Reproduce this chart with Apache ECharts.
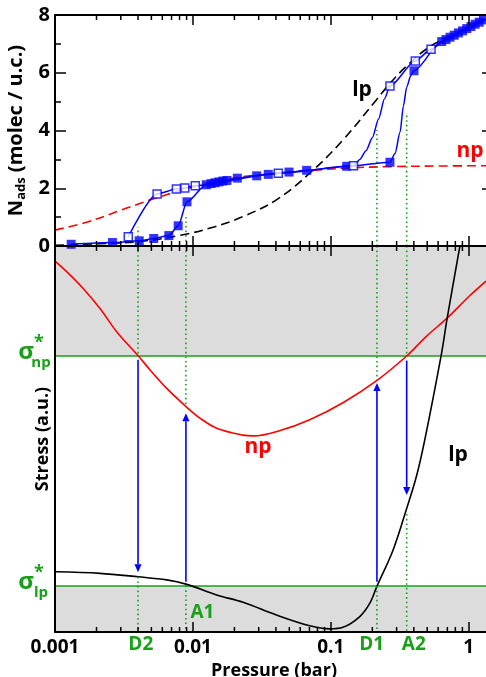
<!DOCTYPE html>
<html>
<head>
<meta charset="utf-8">
<script src="https://cdn.jsdelivr.net/npm/echarts@6/dist/echarts.min.js"></script>
<style>
  html, body { margin: 0; padding: 0; background: #fff; }
  #chart { width: 486px; height: 677px; }
</style>
</head>
<body>
<div id="chart"></div>
<script>
// ---- axis ticks ----
const pressureTicks = [0.001, 0.01, 0.1, 1];
const pressureTickLabels = ['0.001', '0.01', '0.1', '1'];
const pressureMin = 0.001;
const pressureMax = 1.5;
const nadsMax = 8;
const nadsStep = 2;

// ---- top panel: adsorption isotherms, [pressure (bar), N_ads (molec / u.c.)] ----
const npIsotherm = [
  [0.001, 0.55], [0.00174, 0.84], [0.00305, 1.25], [0.00531, 1.65], [0.00927, 2.0],
  [0.0129, 2.17], [0.0209, 2.37], [0.0356, 2.49], [0.0671, 2.6], [0.131, 2.7],
  [0.282, 2.75], [0.619, 2.77], [1.334, 2.78]
];
const lpIsotherm = [
  [0.001, 0.02], [0.00212, 0.08], [0.00402, 0.15], [0.0083, 0.38], [0.01445, 0.67],
  [0.0231, 1.02], [0.0403, 1.6], [0.0703, 2.52], [0.1225, 3.67], [0.2138, 5.06],
  [0.2825, 5.75], [0.373, 6.33], [0.521, 6.9], [0.731, 7.25], [1.0, 7.55], [1.334, 7.85]
];
// simulated adsorption (filled squares)
const adsorptionPts = [
  [0.00131, 0.06], [0.00261, 0.12], [0.00408, 0.18], [0.0052, 0.26], [0.00669, 0.36],
  [0.00782, 0.70], [0.00906, 1.53], [0.0125, 2.12], [0.01353, 2.16], [0.01445, 2.19],
  [0.01545, 2.22], [0.01652, 2.25], [0.01766, 2.27], [0.021, 2.35], [0.029, 2.43],
  [0.0352, 2.48], [0.0498, 2.56], [0.0668, 2.62], [0.1303, 2.76], [0.2685, 2.90],
  [0.4009, 6.07], [0.637, 7.08], [0.684, 7.15], [0.732, 7.23], [0.785, 7.30],
  [0.842, 7.38], [0.903, 7.45], [0.968, 7.53], [1.038, 7.60], [1.113, 7.68],
  [1.191, 7.75], [1.278, 7.83]
];
// simulated desorption (open squares)
const desorptionPts = [
  [0.533, 6.81], [0.410, 6.41], [0.2685, 5.54], [0.146, 2.78], [0.0416, 2.52],
  [0.0104, 2.09], [0.00873, 2.01], [0.00759, 1.97], [0.0055, 1.80], [0.0034, 0.32]
];
// guide lines through the simulated points, including the traced steps
const adsorptionStep = [[0.292, 3.2], [0.318, 3.95], [0.336, 4.85], [0.355, 5.5], [0.38, 5.9]];
const desorptionStep = [[0.245, 5.1], [0.222, 4.4], [0.2, 3.75], [0.18, 3.3], [0.162, 3.0], [0.15, 2.84]];

// ---- bottom panel: stress curves, [pressure (bar), stress (a.u.)] ----
const npStress = [
  [0.001, 96.1], [0.00122, 93.3], [0.0016, 89.0], [0.00212, 83.8], [0.0028, 77.8],
  [0.00402, 71.5], [0.00489, 67.9], [0.00646, 63.1], [0.00891, 58.4], [0.01125, 55.4],
  [0.01486, 52.8], [0.0231, 51.0], [0.0274, 50.8], [0.0429, 52.2], [0.0703, 55.0],
  [0.1225, 59.4], [0.2163, 65.2], [0.3548, 71.5], [0.4932, 76.6], [0.6966, 81.3],
  [1.016, 87.1], [1.334, 90.9]
];
const lpStress = [
  [0.001, 15.6], [0.00212, 15.2], [0.00402, 14.3], [0.00646, 13.5], [0.00891, 12.4],
  [0.01486, 9.6], [0.0231, 7.7], [0.0403, 4.4], [0.0703, 1.6], [0.0982, 0.8],
  [0.1225, 1.2], [0.1622, 4.0], [0.1914, 7.4], [0.2163, 11.9], [0.2825, 21.2],
  [0.3548, 32.0], [0.4169, 40.2], [0.4797, 49.7], [0.6324, 71.8], [0.6966, 81.1],
  [0.861, 99.8]
];
const stressMax = 100;
const sigmaNp = 71.5;
const sigmaLp = 11.9;

// ---- structural transitions ----
const transitions = ['D2', 'A1', 'D1', 'A2'];
const transitionP = [0.0040, 0.0089, 0.216, 0.355];
const transitionNads = [0.66, 1.0, 4.02, 4.6];       // dotted guide height, top panel
const guideUpperEnd = [71.5, 58.4, 65.2, 71.5];      // dotted guide from top of stress panel down to here
const guideLowerStart = [14.3, 12.0, 11.9, 30.5];    // dotted guide from here down to the axis
const arrowFrom = [70.5, 13.0, 13.0, 70.3];
const arrowTo = [15.5, 56.7, 64.5, 35.5];

// ---- styling ----
const FONT = '"Open Sans", "Liberation Sans", sans-serif';
const GREEN = '#19a019';
const BLUE = '#0000ff';
const RED = '#ff0000';
const GRAY = '#dcdcdc';
const GRID_LEFT = 55, GRID_W = 438;

const lg = Math.log10;
const toXY = arr => arr.map(([p, v]) => [lg(p), v]);
const xMin = lg(pressureMin);
const xMax = lg(pressureMax);

const adsorptionPath = adsorptionPts.concat(adsorptionStep).sort((a, b) => a[0] - b[0]);
const desorptionPath = [adsorptionPts[21]].concat(desorptionPts, desorptionStep).sort((a, b) => b[0] - a[0]);

// minor decade ticks (2..9 x 10^n) drawn on the log-pressure axes
const minorTicks = [];
for (let d = -3; d <= 0; d++) {
  for (let k = 2; k <= 9; k++) {
    const v = lg(k * Math.pow(10, d));
    if (v < xMax) minorTicks.push([v, 0]);
  }
}

const chart = echarts.init(document.getElementById('chart'), null, { renderer: 'canvas' });

function pressureLabel(v) {
  const i = pressureTicks.findIndex(p => Math.abs(lg(p) - v) < 1e-6);
  return i >= 0 ? pressureTickLabels[i] : '';
}

const tickStyle = { color: '#000', width: 1.5 };
const lineAxis = { onZero: false, lineStyle: { color: '#000', width: 2 } };

function xAxisDef(gridIndex, position, labelled) {
  return {
    gridIndex, position, type: 'value', min: xMin, max: xMax, interval: 1, z: 5,
    axisLine: lineAxis,
    axisTick: { show: true, inside: true, length: 10, lineStyle: tickStyle },
    splitLine: { show: false },
    axisLabel: labelled ? {
      show: true, formatter: pressureLabel, margin: 6, color: '#000',
      fontSize: 19, fontWeight: 'bold', fontFamily: FONT
    } : { show: false }
  };
}

function minorTickItem(params, api) {
  const cs = params.coordSys;
  const x = api.coord([api.value(0), 0])[0];
  const b = cs.y + cs.height, t = cs.y;
  return {
    type: 'group',
    children: [
      { type: 'line', shape: { x1: x, y1: b, x2: x, y2: b - 5 }, style: { stroke: '#000', lineWidth: 1.5 } },
      { type: 'line', shape: { x1: x, y1: t, x2: x, y2: t + 5 }, style: { stroke: '#000', lineWidth: 1.5 } }
    ]
  };
}

function dottedItem(params, api) {
  const p0 = api.coord([api.value(0), api.value(1)]);
  const p1 = api.coord([api.value(0), api.value(2)]);
  return {
    type: 'line',
    shape: { x1: p0[0], y1: p0[1], x2: p1[0], y2: p1[1] },
    style: { stroke: GREEN, lineWidth: 1.6, lineDash: [1.6, 3] }
  };
}

function arrowItem(params, api) {
  const p0 = api.coord([api.value(0), api.value(1)]);
  const p1 = api.coord([api.value(0), api.value(2)]);
  const dir = p1[1] > p0[1] ? 1 : -1;
  const head = 8, half = 3.6;
  const x = p0[0];
  return {
    type: 'group',
    children: [
      { type: 'line', shape: { x1: x, y1: p0[1], x2: x, y2: p1[1] - dir * head }, style: { stroke: BLUE, lineWidth: 1.6 } },
      { type: 'polygon', shape: { points: [[x - half, p1[1] - dir * head], [x + half, p1[1] - dir * head], [x, p1[1]]] }, style: { fill: BLUE } }
    ]
  };
}

function bandItem(params, api) {
  const cs = params.coordSys;
  const y0 = api.coord([xMin, api.value(1)])[1];
  const y1 = api.coord([xMin, api.value(2)])[1];
  return {
    type: 'rect',
    shape: { x: cs.x, y: Math.min(y0, y1), width: cs.width, height: Math.abs(y1 - y0) },
    style: { fill: GRAY }
  };
}

function levelItem(params, api) {
  const cs = params.coordSys;
  const y = api.coord([xMin, api.value(1)])[1];
  return {
    type: 'line',
    shape: { x1: cs.x, y1: y, x2: cs.x + cs.width, y2: y },
    style: { stroke: GREEN, lineWidth: 1.6 }
  };
}

const option = {
  animation: false,
  backgroundColor: '#fff',
  textStyle: { fontFamily: FONT },
  grid: [
    { left: GRID_LEFT, top: 15, width: GRID_W, height: 231, outerBoundsMode: 'none', containLabel: false },
    { left: GRID_LEFT, top: 246, width: GRID_W, height: 386, outerBoundsMode: 'none', containLabel: false }
  ],
  xAxis: [
    xAxisDef(0, 'bottom', false),
    xAxisDef(0, 'top', false),
    Object.assign(xAxisDef(1, 'bottom', true), {
      name: 'Pressure (bar)', nameLocation: 'middle', nameGap: 24,
      nameTextStyle: { fontSize: 18, fontWeight: 'bold', color: '#000', fontFamily: FONT }
    }),
    xAxisDef(1, 'top', false)
  ],
  yAxis: [
    {
      gridIndex: 0, position: 'left', type: 'value', min: 0, max: nadsMax, interval: nadsStep, z: 5,
      axisLine: lineAxis,
      axisTick: { show: true, inside: true, length: 11, lineStyle: tickStyle },
      minorTick: { show: true, splitNumber: 2, length: 6, lineStyle: tickStyle },
      splitLine: { show: false },
      axisLabel: { show: true, margin: 5, color: '#000', fontSize: 20, fontWeight: 'bold', fontFamily: FONT },
      name: '{a|N}{b|ads}{a| (molec / u.c.)}',
      nameLocation: 'middle', nameRotate: 90, nameGap: 23,
      nameTextStyle: {
        rich: {
          a: { fontSize: 20, fontWeight: 'bold', color: '#000', fontFamily: FONT, lineHeight: 22 },
          b: { fontSize: 13, fontWeight: 'bold', color: '#000', fontFamily: FONT, lineHeight: 14, verticalAlign: 'bottom' }
        }
      }
    },
    {
      gridIndex: 0, position: 'right', type: 'value', min: 0, max: nadsMax, interval: nadsStep, z: 5,
      axisLine: lineAxis,
      axisTick: { show: true, inside: true, length: 11, lineStyle: tickStyle },
      minorTick: { show: true, splitNumber: 2, length: 6, lineStyle: tickStyle },
      splitLine: { show: false },
      axisLabel: { show: false }
    },
    {
      gridIndex: 1, position: 'left', type: 'value', min: 0, max: stressMax, z: 5,
      axisLine: lineAxis,
      axisTick: { show: false },
      splitLine: { show: false },
      axisLabel: { show: false },
      name: 'Stress (a.u.)', nameLocation: 'middle', nameRotate: 90, nameGap: 3,
      nameTextStyle: { fontSize: 18, fontWeight: 'bold', color: '#000', fontFamily: FONT }
    }
  ],
  series: [
    // ----- top panel -----
    {
      type: 'line', name: 'np isotherm', xAxisIndex: 0, yAxisIndex: 0, data: toXY(npIsotherm),
      smooth: 0.4, symbol: 'none', z: 2,
      lineStyle: { color: RED, width: 1.6, type: [9, 5] }
    },
    {
      type: 'line', name: 'lp isotherm', xAxisIndex: 0, yAxisIndex: 0, data: toXY(lpIsotherm),
      smooth: 0.4, symbol: 'none', z: 2,
      lineStyle: { color: '#000', width: 1.6, type: [9, 5] }
    },
    {
      type: 'line', name: 'adsorption', xAxisIndex: 0, yAxisIndex: 0, data: toXY(adsorptionPath),
      smooth: 0.25, smoothMonotone: 'x', symbol: 'none', z: 3,
      lineStyle: { color: BLUE, width: 1.5 }
    },
    {
      type: 'line', name: 'desorption', xAxisIndex: 0, yAxisIndex: 0, data: toXY(desorptionPath),
      smooth: 0.25, smoothMonotone: 'x', symbol: 'none', z: 3,
      lineStyle: { color: BLUE, width: 1.5 }
    },
    {
      type: 'scatter', name: 'adsorption points', xAxisIndex: 0, yAxisIndex: 0, data: toXY(adsorptionPts),
      symbol: 'rect', symbolSize: 9, z: 4,
      itemStyle: { color: BLUE }
    },
    {
      type: 'scatter', name: 'desorption points', xAxisIndex: 0, yAxisIndex: 0, data: toXY(desorptionPts),
      symbol: 'rect', symbolSize: 8, z: 5,
      itemStyle: { color: '#fff', borderColor: BLUE, borderWidth: 1.5 }
    },
    {
      type: 'custom', name: 'transition guides (top)', xAxisIndex: 0, yAxisIndex: 0, z: 3,
      encode: { x: 0, y: [1, 2] },
      data: transitionP.map((p, i) => [lg(p), 0, transitionNads[i]]),
      renderItem: dottedItem
    },
    {
      type: 'custom', name: 'minor ticks (top)', xAxisIndex: 0, yAxisIndex: 0, z: 6,
      data: minorTicks, renderItem: minorTickItem, silent: true
    },
    // ----- bottom panel -----
    {
      type: 'custom', name: 'unstable regions', xAxisIndex: 2, yAxisIndex: 2, z: 0,
      encode: { x: 0, y: [1, 2] },
      data: [[xMin, sigmaNp, stressMax], [xMin, 0, sigmaLp]],
      renderItem: bandItem, silent: true
    },
    {
      type: 'custom', name: 'critical stress', xAxisIndex: 2, yAxisIndex: 2, z: 3,
      encode: { x: 0, y: 1 },
      data: [[xMin, sigmaNp], [xMin, sigmaLp]],
      renderItem: levelItem, silent: true
    },
    {
      type: 'line', name: 'np stress', xAxisIndex: 2, yAxisIndex: 2, data: toXY(npStress),
      smooth: 0.35, symbol: 'none', z: 3,
      lineStyle: { color: RED, width: 1.6 }
    },
    {
      type: 'line', name: 'lp stress', xAxisIndex: 2, yAxisIndex: 2, data: toXY(lpStress),
      smooth: 0.35, symbol: 'none', z: 3,
      lineStyle: { color: '#000', width: 1.6 }
    },
    {
      type: 'custom', name: 'transition guides (bottom)', xAxisIndex: 2, yAxisIndex: 2, z: 4,
      encode: { x: 0, y: [1, 2] },
      data: transitionP.map((p, i) => [lg(p), stressMax, guideUpperEnd[i]])
        .concat(transitionP.map((p, i) => [lg(p), guideLowerStart[i], 0])),
      renderItem: dottedItem
    },
    {
      type: 'custom', name: 'transitions', xAxisIndex: 2, yAxisIndex: 2, z: 4,
      encode: { x: 0, y: [1, 2] },
      data: transitionP.map((p, i) => [lg(p), arrowFrom[i], arrowTo[i]]),
      renderItem: arrowItem
    },
    {
      type: 'custom', name: 'minor ticks (bottom)', xAxisIndex: 2, yAxisIndex: 2, z: 6,
      data: minorTicks, renderItem: minorTickItem, silent: true
    }
  ]
};

chart.setOption(option);

// ---- text annotations ----
function txt(x, y, text, size, color, align) {
  return {
    type: 'text', x, y, z: 20, silent: true,
    style: {
      text, fill: color, font: 'bold ' + size + 'px ' + FONT,
      textAlign: align || 'center', textVerticalAlign: 'middle',
      align: align || 'center', verticalAlign: 'middle'
    }
  };
}

function sigmaLabel(y, sub) {
  return [
    txt(26, y - 4, 'σ', 24, GREEN),
    txt(39, y - 13, '*', 18, GREEN),
    txt(41, y + 7, sub, 15, GREEN)
  ];
}

const yNp = chart.convertToPixel({ xAxisIndex: 2, yAxisIndex: 2 }, [xMin, sigmaNp])[1];
const yLp = chart.convertToPixel({ xAxisIndex: 2, yAxisIndex: 2 }, [xMin, sigmaLp])[1];

chart.setOption({
  graphic: [
    txt(362, 90, 'lp', 21, '#000'),
    txt(470, 151, 'np', 21, RED),
    txt(258, 447, 'np', 21, RED),
    txt(458, 455, 'lp', 21, '#000'),
    txt(202.5, 613, 'A1', 19, GREEN),
    txt(140.8, 645, 'D2', 19, GREEN),
    txt(371.7, 645, 'D1', 19, GREEN),
    txt(413.8, 645, 'A2', 19, GREEN)
  ].concat(sigmaLabel(yNp, 'np'), sigmaLabel(yLp, 'lp'))
});
</script>
</body>
</html>
